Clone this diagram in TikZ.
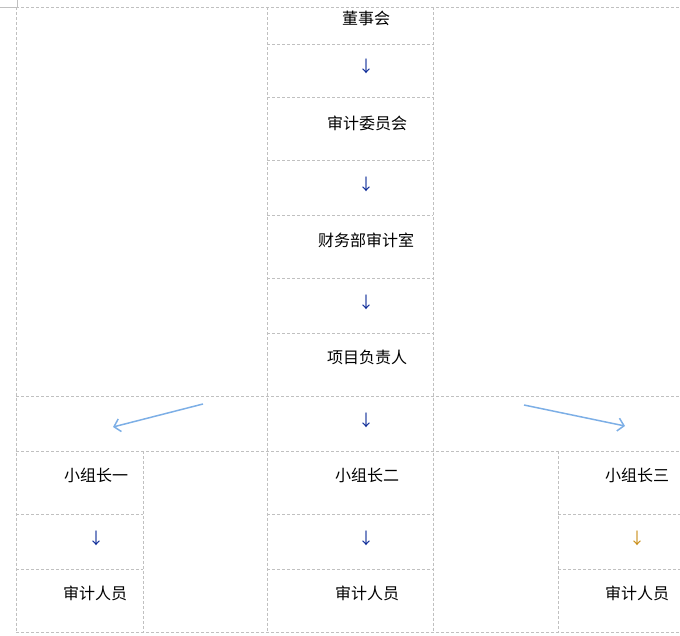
\documentclass[tikz,border=0pt]{standalone}
\usepackage{fontspec}
\newfontfamily\cjk{Noto Sans CJK SC}
\usetikzlibrary{arrows.meta}
\definecolor{gridgray}{RGB}{192,192,192}
\definecolor{arrowblue}{RGB}{10,40,150}
\definecolor{arrowgold}{RGB}{200,140,20}
\definecolor{lightblue}{RGB}{125,175,230}
\begin{document}
\begin{tikzpicture}[x=1pt,y=-1pt,
  gridline/.style={draw=gridgray, line width=0.8pt, dash pattern=on 3pt off 2pt},
  label/.style={font=\cjk\fontsize{16}{16}\selectfont, inner sep=0pt, text=black},
  darrow/.style={font=\cjk\fontsize{16}{16}\selectfont, inner sep=0pt, text=arrowblue},
  branch/.style={draw=lightblue, line width=1.5pt, -{Straight Barb[length=6pt,width=13pt]}}]
\useasboundingbox (0,0) rectangle (680,636);
% corner mark
\draw[gridgray, line width=0.8pt] (0,7.5) -- (17,7.5) -- (17,0);
% horizontal full lines
\foreach \yy in {7.5,396,451,632} \draw[gridline] (16,\yy) -- (680,\yy);
% center column segments
\foreach \yy in {44,97,160,215,278,333} \draw[gridline] (267,\yy) -- (433,\yy);
% bottom segments
\foreach \yy in {514,569} {
  \draw[gridline] (16,\yy) -- (143,\yy);
  \draw[gridline] (267,\yy) -- (433,\yy);
  \draw[gridline] (558,\yy) -- (680,\yy);
}
% verticals
\foreach \xx in {16,267,433} \draw[gridline] (\xx,7.5) -- (\xx,632);
\foreach \xx in {143,558} \draw[gridline] (\xx,451) -- (\xx,632);
% texts
\node[label] (dsh) at (366,18) {董事会};
\node[darrow] (a1) at (366,66) {↓};
\node[label] (sjwyh) at (367,123) {审计委员会};
\node[darrow] (a2) at (366,184) {↓};
\node[label] (cwb) at (366,240) {财务部审计室};
\node[darrow] (a3) at (366,302) {↓};
\node[label] (xmfzr) at (367,357) {项目负责人};
\node[darrow] (a4) at (366,420) {↓};
\node[label] (z1) at (96,475) {小组长一};
\node[darrow] (a5) at (96,538) {↓};
\node[label] (r1) at (95,593) {审计人员};
\node[label] (z2) at (367,475) {小组长二};
\node[darrow] (a6) at (366,538) {↓};
\node[label] (r2) at (367,593) {审计人员};
\node[label] (z3) at (637,475) {小组长三};
\node[darrow, text=arrowgold] (a7) at (637,538) {↓};
\node[label] (r3) at (637,593) {审计人员};
% branch arrows
\coordinate (ls) at (203,404);
\coordinate (le) at (113,427);
\coordinate (rs) at (524,405);
\coordinate (re) at (625,426);
\draw[branch] (ls) -- (le);
\draw[branch] (rs) -- (re);
\end{tikzpicture}
\end{document}
